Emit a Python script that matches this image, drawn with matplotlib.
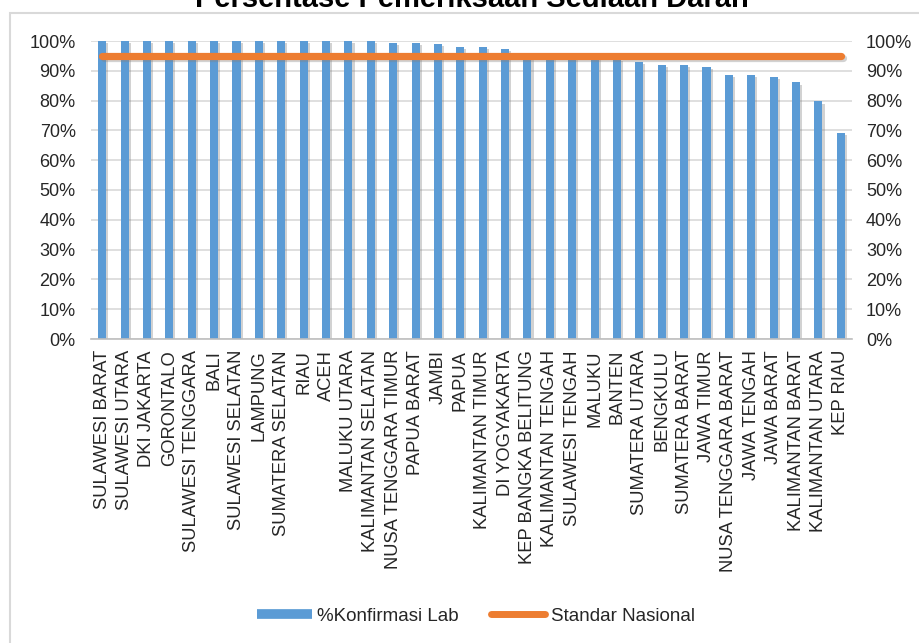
import matplotlib
matplotlib.use('Agg')
import matplotlib.pyplot as plt
import matplotlib.patheffects as pe
from matplotlib.patches import Rectangle
from matplotlib.lines import Line2D
from matplotlib.ticker import FuncFormatter
import numpy as np

plt.rcParams['font.family'] = ['Liberation Sans', 'DejaVu Sans']

# 数据
provinsi = [
    'SULAWESI BARAT', 'SULAWESI UTARA', 'DKI JAKARTA', 'GORONTALO',
    'SULAWESI TENGGARA', 'BALI', 'SULAWESI SELATAN', 'LAMPUNG',
    'SUMATERA SELATAN', 'RIAU', 'ACEH', 'MALUKU UTARA',
    'KALIMANTAN SELATAN', 'NUSA TENGGARA TIMUR', 'PAPUA BARAT', 'JAMBI',
    'PAPUA', 'KALIMANTAN TIMUR', 'DI YOGYAKARTA', 'KEP BANGKA BELITUNG',
    'KALIMANTAN TENGAH', 'SULAWESI TENGAH', 'MALUKU', 'BANTEN',
    'SUMATERA UTARA', 'BENGKULU', 'SUMATERA BARAT', 'JAWA TIMUR',
    'NUSA TENGGARA BARAT', 'JAWA TENGAH', 'JAWA BARAT', 'KALIMANTAN BARAT',
    'KALIMANTAN UTARA', 'KEP RIAU'
]

konfirmasi_lab = [100, 100, 100, 100, 100, 100, 100, 100, 100, 100, 100, 100,
                  100, 99.4, 99.3, 98.9, 98.1, 98.1, 97.3, 95.5, 95.2, 94.8,
                  94.4, 94.0, 93.0, 92.1, 92.0, 91.2, 88.6, 88.6, 87.8, 86.1,
                  79.7, 69.2]

standar_nasional = 95
y_ticks = list(range(0, 101, 10))

BLUE = '#5B9BD5'
ORANGE = '#ED7D31'
TEXT = '#262626'

fig = plt.figure(figsize=(9.2, 6.43), dpi=100)
fig.patch.set_facecolor('white')

# 图表外框
fig.patches.append(Rectangle((10 / 920, -0.2), 1.2, 1.2 - 13 / 643,
                             transform=fig.transFigure, fill=False,
                             edgecolor='#D9D9D9', linewidth=1.5))

ax = fig.add_axes([91 / 920, 1 - 339 / 643, 761 / 920, 298 / 643])

x = np.arange(len(provinsi))
shadow = [pe.SimplePatchShadow(offset=(1.5, -1.5), shadow_rgbFace='#7F7F7F', alpha=0.35), pe.Normal()]

bars = ax.bar(x, konfirmasi_lab, width=0.36, color=BLUE, zorder=2)
for b in bars:
    b.set_path_effects(shadow)

ax.plot(x, [standar_nasional] * len(x), color=ORANGE, linewidth=5.2,
        solid_capstyle='round', zorder=3,
        path_effects=[pe.SimpleLineShadow(offset=(1.5, -1.5), shadow_color='#7F7F7F', alpha=0.35),
                      pe.Normal()])

ax.set_xlim(-0.5, len(x) - 0.5)
ax.set_ylim(0, 100)
ax.set_yticks(y_ticks)
pct = FuncFormatter(lambda v, _: f'{int(v)}%')
ax.yaxis.set_major_formatter(pct)
ax.yaxis.grid(True, color='#D9D9D9', linewidth=1.2)
ax.set_axisbelow(True)

ax.set_xticks(x)
ax.set_xticklabels(provinsi, rotation=90, fontsize=13.2, color=TEXT)
ax.tick_params(axis='x', length=0, pad=8)
ax.tick_params(axis='y', length=0, pad=11, labelsize=13, labelcolor=TEXT)

for side in ['top', 'right', 'left']:
    ax.spines[side].set_visible(False)
ax.spines['bottom'].set_color('#BFBFBF')
ax.spines['bottom'].set_linewidth(1.2)

# 右侧坐标轴
ax2 = ax.twinx()
ax2.set_ylim(0, 100)
ax2.set_yticks(y_ticks)
ax2.yaxis.set_major_formatter(pct)
ax2.tick_params(axis='y', length=0, pad=10, labelsize=13, labelcolor=TEXT)
for side in ax2.spines:
    ax2.spines[side].set_visible(False)

fig.text(0.513, 1 - 7 / 643, 'Persentase Pemeriksaan Sediaan Darah',
         ha='center', va='baseline', fontsize=21, fontweight='bold', color='black')

# 图例
handles = [
    Line2D([], [], color=BLUE, linewidth=7, solid_capstyle='butt'),
    Line2D([], [], color=ORANGE, linewidth=5, solid_capstyle='round'),
]
fig.legend(handles=handles, labels=['%Konfirmasi Lab', 'Standar Nasional'],
           loc='center', bbox_to_anchor=(476 / 920, 1 - 616 / 643),
           ncol=2, frameon=False, fontsize=13.5, handlelength=2.9, handletextpad=0.3,
           columnspacing=1.7, labelcolor=TEXT)

plt.savefig('out.png', dpi=100, facecolor='white')
plt.close()
